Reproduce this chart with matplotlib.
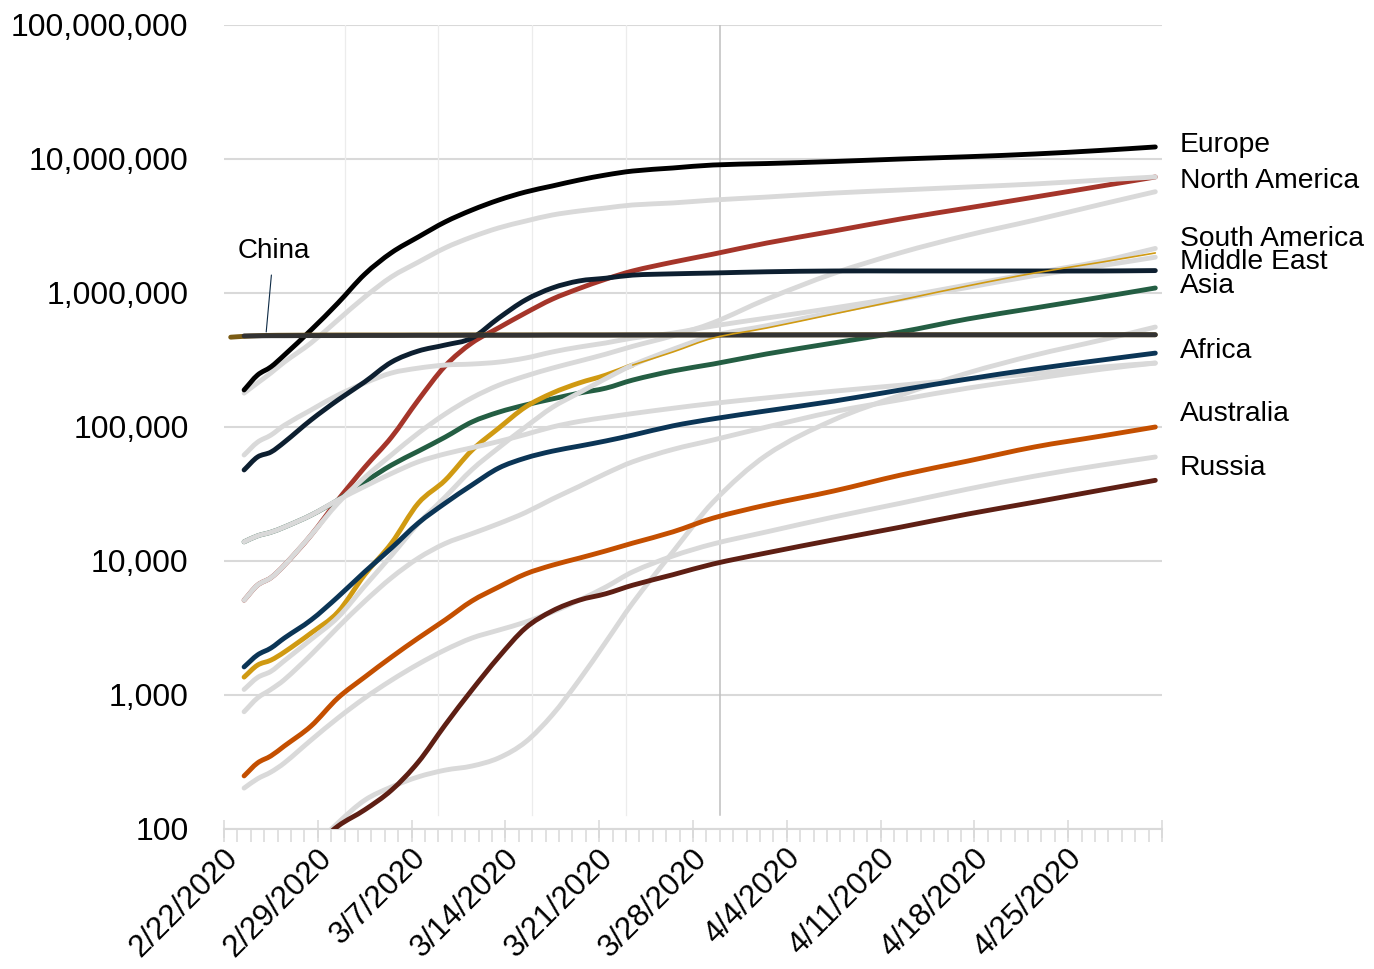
import matplotlib
matplotlib.use("Agg")
import numpy as np
import matplotlib.pyplot as plt
from matplotlib.path import Path
from matplotlib.patches import PathPatch
from matplotlib.ticker import FixedLocator, NullFormatter
from matplotlib.transforms import ScaledTranslation

plt.rcParams['font.family'] = ['Liberation Sans', 'DejaVu Sans']

# day index 0 = 2/22/2020 ... 69 = 5/1/2020
days = [1, 2, 3, 4, 6, 8, 10, 12, 14, 16, 18, 20, 22, 24, 26, 28, 30, 33, 36, 40, 45, 50, 55, 60, 65, 69]

europe = [189e3, 244e3, 281e3, 344e3, 530e3, 841e3, 1.38e6, 2.0e6, 2.62e6, 3.39e6, 4.16e6, 4.94e6, 5.67e6,
          6.29e6, 6.97e6, 7.60e6, 8.13e6, 8.57e6, 9.02e6, 9.25e6, 9.58e6, 10.0e6, 10.4e6, 10.9e6, 11.6e6, 12.3e6]
north_america = [5.1e3, 6.6e3, 7.5e3, 9.3e3, 15.6e3, 28.5e3, 50e3, 84e3, 159e3, 285e3, 424e3, 550e3, 710e3,
                 900e3, 1.08e6, 1.27e6, 1.46e6, 1.70e6, 1.95e6, 2.36e6, 2.90e6, 3.57e6, 4.31e6, 5.2e6, 6.29e6, 7.34e6]
south_america = [1.36e3, 1.67e3, 1.82e3, 2.09e3, 2.9e3, 4.16e3, 7.9e3, 13.6e3, 27e3, 40e3, 67e3, 98e3, 141e3,
                 179e3, 213e3, 244e3, 290e3, 363e3, 461e3, 548e3, 697e3, 887e3, 1.13e6, 1.41e6, 1.70e6, 1.99e6]
middle_east = [47.8e3, 59.7e3, 65e3, 77e3, 113e3, 159e3, 217e3, 305e3, 369e3, 409e3, 461e3, 650e3, 887e3,
               1.09e6, 1.23e6, 1.29e6, 1.36e6, 1.39e6, 1.41e6, 1.44e6, 1.46e6, 1.46e6, 1.46e6, 1.46e6, 1.46e6, 1.47e6]
asia = [13.9e3, 15.4e3, 16.4e3, 17.9e3, 22e3, 28.5e3, 38.9e3, 52e3, 66e3, 84e3, 109e3, 129e3, 146e3,
        162e3, 179e3, 195e3, 224e3, 262e3, 295e3, 351e3, 424e3, 512e3, 640e3, 773e3, 933e3, 1.09e6]
china = [478e3, 479e3, 480e3, 480e3, 481e3, 481e3, 482e3, 482e3, 483e3, 483e3, 484e3, 484e3, 484e3,
         485e3, 485e3, 485e3, 486e3, 486e3, 486e3, 486e3, 487e3, 487e3, 487e3, 487e3, 488e3, 488e3]
china_days = [0, 1, 2, 3, 4, 6, 8, 69]
china_early = [468e3, 475e3, 480e3, 483e3, 484e3, 485e3, 486e3, 488e3]
africa = [1.62e3, 1.99e3, 2.24e3, 2.66e3, 3.63e3, 5.4e3, 8.3e3, 12.5e3, 19.2e3, 27e3, 36.9e3, 49.4e3, 58.7e3,
          66e3, 72e3, 78.7e3, 87e3, 102e3, 115e3, 132e3, 156e3, 189e3, 228e3, 271e3, 316e3, 356e3]
australia = [249, 311, 351, 416, 587, 950, 1.36e3, 1.92e3, 2.66e3, 3.63e3, 5.03e3, 6.4e3, 8.0e3,
             9.3e3, 10.5e3, 11.9e3, 13.6e3, 16.5e3, 20.9e3, 26.2e3, 33.3e3, 43.8e3, 55.7e3, 71e3, 85.7e3, 100e3]
russia = [30, 38, 43, 49, 70, 105, 139, 195, 316, 597, 1.09e3, 1.92e3, 3.16e3,
          4.24e3, 5.1e3, 5.7e3, 6.6e3, 7.9e3, 9.5e3, 11.5e3, 14.4e3, 17.9e3, 22.4e3, 27.5e3, 33.9e3, 40e3]

# grey comparison curves
grey_europe = [179e3, 213e3, 253e3, 305e3, 424e3, 629e3, 933e3, 1.32e6, 1.70e6, 2.17e6, 2.62e6, 3.06e6, 3.44e6,
               3.82e6, 4.09e6, 4.31e6, 4.54e6, 4.70e6, 4.94e6, 5.20e6, 5.57e6, 5.87e6, 6.18e6, 6.51e6, 6.97e6, 7.34e6]
grey_middle_east = [61.8e3, 77e3, 87e3, 103e3, 134e3, 173e3, 213e3, 253e3, 275e3, 290e3, 295e3, 305e3, 327e3,
                    363e3, 395e3, 424e3, 461e3, 502e3, 567e3, 650e3, 773e3, 933e3, 1.15e6, 1.41e6, 1.73e6, 2.15e6]
grey_north_america = [5.1e3, 6.6e3, 7.5e3, 9.3e3, 15.6e3, 27e3, 42e3, 62e3, 90e3, 125e3, 165e3, 205e3, 240e3,
                      275e3, 310e3, 350e3, 400e3, 480e3, 600e3, 900e3, 1.4e6, 2.0e6, 2.7e6, 3.5e6, 4.6e6, 5.7e6]
grey_asia = [13.9e3, 15.4e3, 16.4e3, 17.9e3, 22e3, 28.5e3, 36e3, 45e3, 55e3, 63e3, 70e3, 78e3, 88e3,
             100e3, 110e3, 118e3, 126e3, 138e3, 150e3, 165e3, 185e3, 205e3, 228e3, 250e3, 280e3, 300e3]
grey_south_america = [1.1e3, 1.35e3, 1.5e3, 1.8e3, 2.6e3, 3.8e3, 6.5e3, 11e3, 19e3, 30e3, 48e3, 70e3, 100e3,
                      140e3, 180e3, 230e3, 290e3, 380e3, 480e3, 570e3, 720e3, 900e3, 1.1e6, 1.35e6, 1.6e6, 1.85e6]
grey_africa = [750, 950, 1.1e3, 1.3e3, 2e3, 3.2e3, 5e3, 7.5e3, 10.5e3, 13.5e3, 16e3, 19e3, 23e3,
               29e3, 36e3, 45e3, 55e3, 68e3, 80e3, 100e3, 130e3, 160e3, 195e3, 230e3, 270e3, 300e3]
grey_australia = [202, 237, 266, 311, 461, 673, 950, 1.29e3, 1.70e3, 2.17e3, 2.66e3, 3.05e3, 3.5e3,
                  4.16e3, 5.1e3, 6.4e3, 8.3e3, 10.9e3, 13.4e3, 16.5e3, 21.3e3, 27e3, 34.4e3, 43e3, 52e3, 59.7e3]
grey_russia = [20, 28, 35, 45, 70, 111, 164, 206, 245, 275, 295, 339, 446,
               710, 1.29e3, 2.49e3, 4.86e3, 11.7e3, 27.5e3, 61.8e3, 113e3, 173e3, 253e3, 344e3, 446e3, 557e3]

date_labels = ["2/22/2020", "2/29/2020", "3/7/2020", "3/14/2020", "3/21/2020", "3/28/2020",
               "4/4/2020", "4/11/2020", "4/18/2020", "4/25/2020"]
y_ticks = [1e2, 1e3, 1e4, 1e5, 1e6, 1e7, 1e8]
y_tick_labels = ["100", "1,000", "10,000", "100,000", "1,000,000", "10,000,000", "100,000,000"]

end_labels = ["Europe", "North America", "South America", "Middle East", "Asia", "Africa", "Australia", "Russia"]
end_label_y = [12.8e6, 6.86e6, 2.53e6, 1.70e6, 1.13e6, 369e3, 125e3, 49.4e3]

GREY = "#d9d9d9"
LW = 3.5

fig = plt.figure(figsize=(13.74, 9.69), dpi=100)
ax = fig.add_axes([224 / 1374, 1 - 829 / 969, (1162 - 224) / 1374, (829 - 25) / 969])
ax.set_yscale("log")
ax.set_xlim(-0.5, 69.5)
ax.set_ylim(100, 1e8)


def smooth_line(xs, ys, color, z, lw=LW):
    """Smoothed line (like a spreadsheet 'smoothed line') through the given points,
    drawn as a Bezier path that matplotlib transforms through the log scale."""
    x = np.asarray(xs, float)
    ly = np.log10(np.asarray(ys, float))
    n = len(x)
    m = np.zeros(n)
    for i in range(n):
        if i == 0:
            m[i] = (ly[1] - ly[0]) / (x[1] - x[0])
        elif i == n - 1:
            m[i] = (ly[-1] - ly[-2]) / (x[-1] - x[-2])
        else:
            m[i] = (ly[i + 1] - ly[i - 1]) / (x[i + 1] - x[i - 1])
    verts = [(x[0], ly[0])]
    codes = [Path.MOVETO]
    for i in range(n - 1):
        h = x[i + 1] - x[i]
        verts += [(x[i] + h / 3, ly[i] + m[i] * h / 3),
                  (x[i + 1] - h / 3, ly[i + 1] - m[i + 1] * h / 3),
                  (x[i + 1], ly[i + 1])]
        codes += [Path.CURVE4] * 3
    verts = np.array(verts)
    verts[:, 1] = 10 ** verts[:, 1]
    patch = PathPatch(Path(verts, codes), fill=False, edgecolor=color, lw=lw,
                      capstyle="round", joinstyle="round", zorder=z)
    ax.add_patch(patch)


# colored lines partly hidden under their grey twins
smooth_line(days, north_america, "#a5352a", 3)
smooth_line(days, asia, "#245e43", 3)
split = days.index(30)
smooth_line(days[:split + 1], south_america[:split + 1], "#d09a12", 3)
smooth_line(days[split:], south_america[split:], "#d09a12", 6, lw=1.2)

for g in [grey_europe, grey_middle_east, grey_north_america, grey_asia, grey_south_america,
          grey_africa, grey_australia, grey_russia]:
    smooth_line(days, g, GREY, 4)

smooth_line(days, europe, "#000000", 5)
smooth_line(days, middle_east, "#0d1f30", 5)
smooth_line(days, africa, "#0b3556", 5)
smooth_line(days, australia, "#c44f00", 5)
smooth_line(days, russia, "#5e1f14", 5)
smooth_line(china_days, china_early, "#7b5c15", 5)
smooth_line(days, china, "#333333", 5.5)

# grid
for v in y_ticks:
    ax.axhline(v, color=GREY, lw=1.5, zorder=1)
for xv in [8.5, 15.5, 22.5, 29.5]:
    ax.axvline(xv, ymin=14 / 804, ymax=1, color="#ececec", lw=0.9, zorder=1)
ax.axvline(36.5, ymin=14 / 804, ymax=1, color="#bfbfbf", lw=1.1, zorder=2)

for s in ["top", "right", "left"]:
    ax.spines[s].set_visible(False)
ax.spines["bottom"].set_color(GREY)
ax.spines["bottom"].set_linewidth(1.5)
ax.spines["bottom"].set_zorder(1)

ax.set_yticks(y_ticks)
ax.set_yticklabels(y_tick_labels, fontsize=23)
ax.yaxis.set_minor_locator(FixedLocator([]))
ax.tick_params(axis="y", length=0, pad=25.5)

label_pos = [7 * i for i in range(len(date_labels))]
ax.set_xticks(label_pos)
ax.set_xticklabels(date_labels, fontsize=22.5, rotation=45, ha="right", rotation_mode="anchor")
ax.tick_params(axis="x", which="major", length=0, pad=10)
for lab in ax.get_xticklabels():
    lab.set_transform(lab.get_transform() + ScaledTranslation(-8 / 100, 0, fig.dpi_scale_trans))
ax.xaxis.set_minor_locator(FixedLocator([d - 0.5 for d in range(71)]))
ax.xaxis.set_minor_formatter(NullFormatter())
ax.tick_params(axis="x", which="minor", length=9, width=1.1, color=GREY, direction="out")

sec = ax.secondary_xaxis("bottom")
sec.set_xticks([7 * i - 0.5 for i in range(11)])
sec.set_xticklabels([])
sec.tick_params(length=13, width=1.1, color=GREY, direction="inout")
sec.spines["bottom"].set_visible(False)

for name, yv in zip(end_labels, end_label_y):
    ax.annotate(name, xy=(69.5, yv), xytext=(13, 0), textcoords="offset points",
                fontsize=20.3, va="center", ha="left", annotation_clip=False)

ax.annotate("China", xy=(2.65, 512e3), xytext=(3.2, 2.06e6), fontsize=20,
            ha="center", va="center",
            arrowprops=dict(arrowstyle="-", color="#0d2a45", lw=0.8, shrinkA=6, shrinkB=0))

fig.savefig("out.png", dpi=100)
